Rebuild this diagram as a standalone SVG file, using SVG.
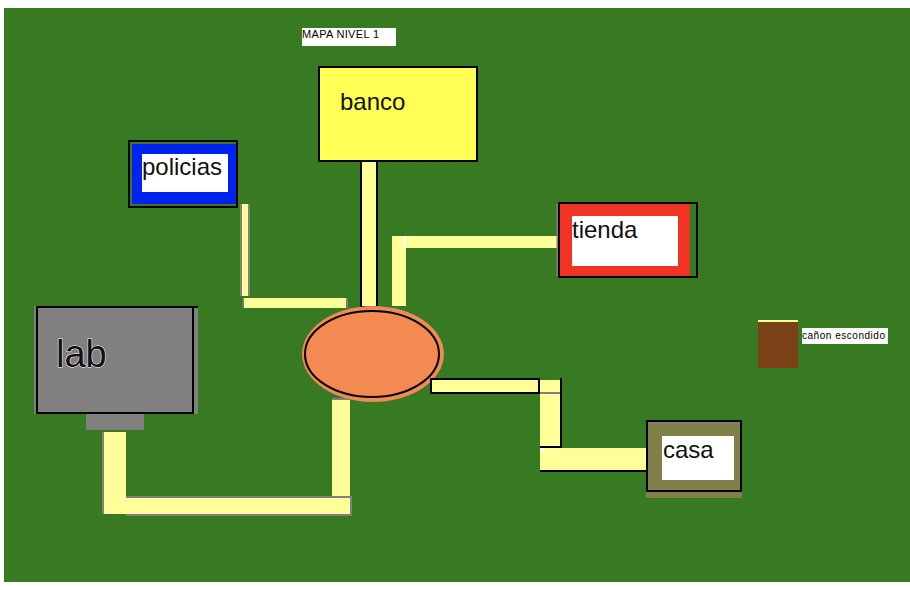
<svg xmlns="http://www.w3.org/2000/svg" width="910" height="590" viewBox="0 0 910 590">
<style>
text{font-family:"Liberation Sans",Arial,sans-serif;fill:#111}
.y{fill:#ffff99}.g{fill:#808080}.k{fill:#000}.w{fill:#fff}
.l{font-size:24px}
.s{fill:#000}
</style>
<rect width="910" height="590" fill="#fff"/>
<rect x="4" y="8" width="906" height="574" fill="#387a22"/>
<g id="connectors">
<g id="c-policias">
<rect class="g" x="240" y="204" width="10" height="92"/><rect class="y" x="242" y="204" width="6" height="92"/>
<rect class="g" x="242.500" y="298" width="105.500" height="10"/><rect class="y" x="244" y="298" width="102" height="10"/>
</g>
<g id="c-banco"><rect class="k" x="360" y="160" width="18" height="148"/><rect class="y" x="362" y="162" width="14" height="144"/></g>
<g id="c-tienda">
<rect class="y" x="392" y="236" width="14" height="70"/><rect class="y" x="406" y="236" width="152" height="12"/><rect class="w" x="404" y="236" width="2" height="12"/>
</g>
<g id="c-lab">
<rect class="g" x="102" y="432" width="24" height="82"/><rect class="g" x="126" y="496" width="226" height="20"/>
<rect class="g" x="332" y="398" width="18" height="100"/>
<rect class="y" x="104" y="432" width="22" height="82"/><rect class="y" x="104" y="498" width="246" height="16"/><rect class="y" x="332" y="400" width="18" height="96"/>
</g>
<g id="c-casa">
<rect class="k" x="430" y="378" width="110" height="16"/><rect class="y" x="432" y="380" width="106" height="12"/>
<rect class="y" x="540" y="380" width="20" height="66"/><rect class="g" x="540" y="392" width="20" height="2"/>
<rect class="k" x="560" y="378" width="2" height="70"/><rect class="k" x="540" y="446" width="22" height="2"/>
<rect class="y" x="540" y="448" width="106" height="22"/><rect class="k" x="540" y="470" width="106" height="2"/><rect class="w" x="540" y="448" width="4" height="4"/>
</g>
</g>
<g id="plaza">
<ellipse cx="373" cy="354" rx="71" ry="48" fill="#808080"/>
<ellipse cx="373" cy="354" rx="70.800" ry="47.800" fill="#f28a52"/>
<ellipse cx="372" cy="354" rx="67" ry="43" fill="none" stroke="#000" stroke-width="2"/>
</g>
<rect class="k" x="430" y="378" width="12" height="16"/><rect class="y" x="432" y="380" width="10" height="12"/>
<g id="titulo"><rect class="w" x="302" y="28" width="94" height="18"/><text class="s" x="302" y="38" font-size="11" textLength="77">MAPA NIVEL 1</text></g>
<g id="banco"><rect x="319" y="67" width="158" height="94" fill="#ffff55" stroke="#000" stroke-width="2"/><text class="l" x="340" y="110">banco</text></g>
<g id="policias"><rect x="129" y="141" width="108" height="66" fill="#387a22" stroke="#000" stroke-width="2"/><rect x="132" y="144" width="104" height="60" fill="#0024f0"/><rect class="w" x="142" y="154" width="86" height="38"/><text class="l" x="142" y="175">policias</text></g>
<g id="tienda"><rect class="g" x="556.500" y="204" width="1.500" height="72"/><rect x="559" y="203" width="138" height="74" fill="#387a22" stroke="#000" stroke-width="2"/><rect x="560" y="204" width="130" height="72" fill="#f03324"/><rect class="w" x="572" y="216" width="106" height="50"/><text class="l" x="572" y="238">tienda</text></g>
<g id="lab"><rect class="g" x="34" y="306" width="164" height="108"/><rect x="37" y="307" width="156" height="106" fill="#808080" stroke="#000" stroke-width="2"/><rect class="k" x="193" y="306" width="5" height="2"/><rect class="g" x="86" y="414" width="58" height="16"/><text x="56" y="367" font-size="38" stroke="#fff" stroke-width="1" paint-order="stroke">lab</text></g>
<g id="casa"><rect x="646" y="492" width="96" height="6" fill="#808048"/><rect x="647" y="421" width="94" height="70" fill="#808048" stroke="#000" stroke-width="2"/><rect class="g" x="648" y="422" width="92" height="2"/><rect class="w" x="662" y="436" width="72" height="44"/><text class="l" x="663" y="458">casa</text></g>
<g id="escondido"><rect x="758" y="320" width="40" height="48" fill="#7a4216"/><rect class="y" x="758" y="320" width="40" height="2"/><rect class="w" x="802" y="328" width="86" height="16"/><text class="s" x="802" y="339" font-size="10" textLength="83">cañon escondido</text></g>
</svg>
